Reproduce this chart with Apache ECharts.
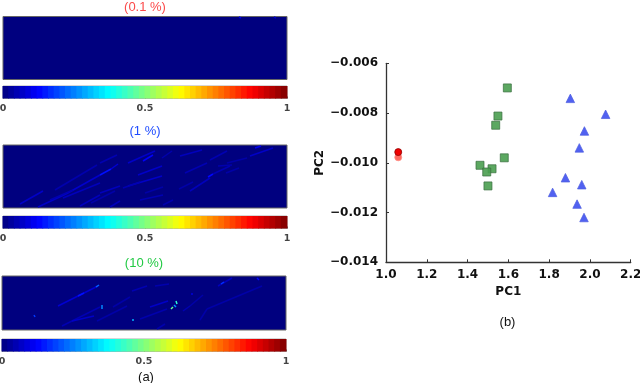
<!DOCTYPE html>
<html>
<head>
<meta charset="utf-8">
<style>
  html, body { margin: 0; padding: 0; background: #fff; }
  #chart { width: 640px; height: 383px; }
</style>
<script src="https://cdn.jsdelivr.net/npm/echarts@6/dist/echarts.min.js"></script>
</head>
<body>
<div id="chart"></div>
<script>
// jet colour ramp, even stops from 0 to 1
const jetColors = ['#00007f', '#0000ff', '#007fff', '#00ffff', '#7fff7f', '#ffff00', '#ff7f00', '#ff0000', '#7f0000']

// band centres of the colour bar
const colorbarValues = [
  0.01, 0.03, 0.05, 0.07, 0.09, 0.11, 0.13, 0.15, 0.17, 0.19,
  0.21, 0.23, 0.25, 0.27, 0.29, 0.31, 0.33, 0.35, 0.37, 0.39,
  0.41, 0.43, 0.45, 0.47, 0.49, 0.51, 0.53, 0.55, 0.57, 0.59,
  0.61, 0.63, 0.65, 0.67, 0.69, 0.71, 0.73, 0.75, 0.77, 0.79,
  0.81, 0.83, 0.85, 0.87, 0.89, 0.91, 0.93, 0.95, 0.97, 0.99
]
const colorbarTicks = [0, 0.5, 1]

// map streaks: x0, y0, x1, y1, value (image column/row inside the map)
const streaks01 = [
  [236, 0.5, 238, 1.5, 0.1], [271, 0.5, 273, 1.5, 0.07]
]
const streaks1 = [
  [17, 59, 40, 46, 0.07], [35, 62, 63, 49, 0.07], [63, 49, 97, 30, 0.075], [97, 30, 108, 24, 0.14],
  [108, 24, 115, 19, 0.08], [125, 18, 152, 6, 0.07], [47, 55, 70, 45, 0.05], [60, 53, 97, 38, 0.06],
  [77, 61, 97, 50, 0.06], [52, 45, 94, 20, 0.045], [97, 18, 114, 10, 0.05], [125, 41, 159, 31, 0.07],
  [120, 43, 137, 37, 0.05], [135, 30, 159, 21, 0.07], [107, 62, 117, 56, 0.06], [97, 48, 117, 41, 0.06],
  [137, 55, 160, 50, 0.05], [160, 60, 170, 55, 0.045], [177, 11, 199, 5, 0.06], [159, 13, 169, 6, 0.045],
  [182, 28, 204, 18, 0.05], [207, 15, 224, 6, 0.05], [187, 46, 207, 33, 0.06], [205, 32, 210, 29, 0.13],
  [210, 29, 227, 21, 0.05], [215, 21, 229, 20, 0.045], [224, 18, 244, 13, 0.04], [223, 28, 236, 23, 0.04],
  [247, 11, 270, 3, 0.07], [252, 3, 258, 1, 0.11], [140, 16, 150, 10, 0.12], [88, 58, 112, 46, 0.04],
  [142, 48, 160, 42, 0.04], [176, 44, 190, 37, 0.04]
]
const streaks10 = [
  [56, 30, 96, 10, 0.08], [76, 20, 82, 17, 0.14], [94, 11, 97, 9, 0.22], [60, 50, 98, 31, 0.05],
  [32, 39, 33, 41, 0.18], [100, 29, 100, 33, 0.26], [131, 43, 131, 45, 0.3], [174, 25, 175, 28, 0.42],
  [172, 29, 174, 31, 0.28], [169, 33, 171, 31, 0.48], [148, 31, 166, 25, 0.07], [130, 15, 145, 10, 0.05],
  [153, 10, 167, 8, 0.045], [111, 31, 128, 21, 0.04], [138, 43, 165, 33, 0.045], [181, 35, 188, 30, 0.05],
  [163, 48, 155, 53, 0.045], [216, 10, 230, 2, 0.06], [219, 8, 222, 6, 0.17], [255, 2, 257, 4, 0.13],
  [205, 33, 260, 10, 0.04], [188, 30, 201, 19, 0.04], [189, 18, 191, 18, 0.09], [198, 44, 205, 33, 0.04],
  [95, 45, 125, 30, 0.04], [70, 45, 92, 40, 0.07]
]

// PC scatter, [PC1, PC2]
const pointsRed = [[1.06, -0.00957]]
const pointsRedLight = [[1.06, -0.00978]]
const pointsGreen = [
  [1.595, -0.00699], [1.549, -0.00812], [1.538, -0.00849], [1.58, -0.0098],
  [1.461, -0.0101], [1.52, -0.01024], [1.494, -0.01037], [1.5, -0.01093]
]
const pointsBlue = [
  [1.904, -0.00741], [2.077, -0.00805], [1.973, -0.00872], [1.948, -0.0094],
  [1.88, -0.0106], [1.96, -0.01088], [1.817, -0.01119], [1.937, -0.01166], [1.971, -0.0122]
]

const jet = (v) => echarts.color.lerp(v, jetColors)

const maps = [
  { streaks: streaks01, left: 3, top: 16.5, width: 284, height: 63, barTop: 86, label: '(0.1 %)', labelColor: '#fb4a4a', labelY: 7 },
  { streaks: streaks1, left: 3, top: 145, width: 284, height: 63, barTop: 216, label: '(1 %)', labelColor: '#1f4cff', labelY: 131 },
  { streaks: streaks10, left: 2, top: 276, width: 284, height: 54, barTop: 339, label: '(10 %)', labelColor: '#22c944', labelY: 263 }
]

const grid = []
const xAxis = []
const yAxis = []
const series = []
const titles = []

const addTitle = (text, x, y, color) => {
  titles.push({
    text,
    left: x,
    top: y - 6,
    padding: 0,
    textAlign: 'center',
    textStyle: { color, fontFamily: 'Liberation Sans', fontSize: 13, fontWeight: 'normal' }
  })
}

maps.forEach((m) => {
  // heat map panel
  let idx = grid.length
  grid.push({
    left: m.left, top: m.top, width: m.width, height: m.height, outerBoundsMode: 'none',
    show: true, backgroundColor: jetColors[0], borderColor: '#666', borderWidth: 1
  })
  xAxis.push({ gridIndex: idx, type: 'value', min: 0, max: m.width, show: false })
  yAxis.push({ gridIndex: idx, type: 'value', min: 0, max: m.height, inverse: true, show: false })
  m.streaks.forEach((s) => {
    series.push({
      type: 'line',
      xAxisIndex: idx,
      yAxisIndex: idx,
      data: [[s[0], s[1]], [s[2], s[3]]],
      symbol: 'none',
      lineStyle: { color: jet(s[4]), width: 1.5 }
    })
  })

  // colour bar
  idx = grid.length
  grid.push({
    left: m.left, top: m.barTop, width: m.width, height: 12.5, outerBoundsMode: 'none',
    show: true, borderColor: '#777', borderWidth: 0.6
  })
  xAxis.push({
    gridIndex: idx,
    type: 'value',
    min: 0,
    max: 1,
    interval: 0.5,
    splitLine: { show: false },
    axisLine: { show: false },
    axisTick: { inside: true, length: 2, lineStyle: { color: '#666' } },
    axisLabel: {
      margin: 5,
      color: '#444',
      fontFamily: 'DejaVu Sans',
      fontWeight: 'bold',
      fontSize: 9.5,
      customValues: colorbarTicks
    }
  })
  yAxis.push({ gridIndex: idx, type: 'value', min: 0, max: 1, show: false })
  series.push({
    type: 'bar',
    xAxisIndex: idx,
    yAxisIndex: idx,
    barWidth: 6.6,
    data: colorbarValues.map((v) => ({
      value: [v, 1],
      itemStyle: { color: jet(v) }
    }))
  })

  addTitle(m.label, m.left + m.width / 2, m.labelY, m.labelColor)
})

// PC scatter panel
const pcIdx = grid.length
const pcAxisText = { color: '#111', fontFamily: 'DejaVu Sans', fontWeight: 'bold', fontSize: 12 }
grid.push({ left: 386, right: 9.3, top: 63.3, bottom: 120.7, outerBoundsMode: 'none' })
xAxis.push({
  gridIndex: pcIdx,
  type: 'value',
  min: 1,
  max: 2.2,
  interval: 0.2,
  name: 'PC1',
  nameLocation: 'middle',
  nameGap: 20,
  nameTextStyle: pcAxisText,
  splitLine: { show: false },
  axisLine: { lineStyle: { color: '#333', width: 1.3 } },
  axisTick: { inside: true, length: 3, lineStyle: { color: '#333' } },
  axisLabel: { ...pcAxisText, margin: 7, formatter: (v) => v.toFixed(1) }
})
yAxis.push({
  gridIndex: pcIdx,
  type: 'value',
  min: -0.014,
  max: -0.006,
  interval: 0.002,
  name: 'PC2',
  nameLocation: 'middle',
  nameRotate: 90,
  nameGap: 58,
  nameTextStyle: pcAxisText,
  splitLine: { show: false },
  axisLine: { lineStyle: { color: '#333', width: 1.3 } },
  axisTick: { inside: true, length: 3, lineStyle: { color: '#333' } },
  axisLabel: { ...pcAxisText, margin: 8, formatter: (v) => '\u2212' + Math.abs(v).toFixed(3) }
})
const addScatter = (data, symbol, symbolSize, color, borderColor, opacity) => {
  series.push({
    type: 'scatter',
    xAxisIndex: pcIdx,
    yAxisIndex: pcIdx,
    data,
    symbol,
    symbolSize,
    itemStyle: { color, borderColor, borderWidth: 0.8, opacity }
  })
}
addScatter(pointsRedLight, 'circle', 7, '#ff5a50', '#ff8a80', 0.9)
addScatter(pointsRed, 'circle', 7, '#f00000', '#900000', 1)
addScatter(pointsGreen, 'rect', 8, '#4a9e50', '#3a6e40', 0.9)
addScatter(pointsBlue, 'triangle', 8.5, '#4858f0', '#5060e0', 0.95)

addTitle('(a)', 146, 377, '#111')
addTitle('(b)', 507.5, 321.5, '#111')

const chart = echarts.init(document.getElementById('chart'), null, { renderer: 'canvas' })
chart.setOption({
  animation: false,
  backgroundColor: '#fff',
  title: titles,
  grid,
  xAxis,
  yAxis,
  series
})
</script>
</body>
</html>
